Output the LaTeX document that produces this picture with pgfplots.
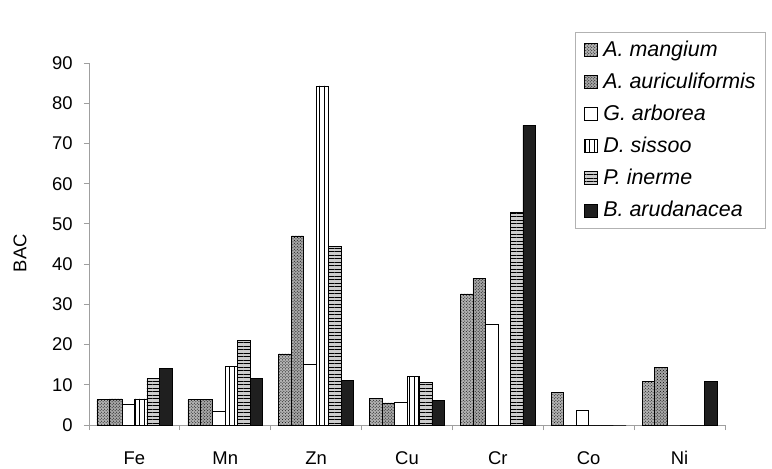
\documentclass[border=0pt]{standalone}
\usepackage{pgfplots}
\pgfplotsset{compat=1.18}
\usepackage{pgfplotstable}
\usepackage{fontspec}
\setmainfont{Liberation Sans}
\usetikzlibrary{patterns,patterns.meta}

% Bioaccumulation coefficients per element (rows) and species (columns)
\pgfplotstableread{
x  Am    Aa    Ga    Ds    Pi    Ba
0  6.3   6.5   5.2   6.5   11.6  14.1
1  6.3   6.3   3.3   14.5  21.0  11.6
2  17.7  47.0  15.1  84.3  44.5  11.0
3  6.7   5.5   5.7   12.0  10.5  6.2
4  32.6  36.5  25.0  0     53.0  74.5
5  8.2   0     3.6   0     0     0
6  10.9  14.4  0     0     0     10.8
}\bac

\pgfplotsset{
  swatch/.style={legend image code/.code={%
    \draw[##1] (0bp,-6.5bp) rectangle (13bp,6.5bp);}},
  barbase/.style={ybar, bar width=0.1375, draw=black, line width=0.6bp, swatch},
}

\begin{document}
\fontsize{18.5}{22}\selectfont
\begin{tikzpicture}
\begin{axis}[
  at={(0,0)}, anchor=south west,
  scale only axis, width=636bp, height=362bp,
  xmin=-0.5, xmax=6.5, ymin=0, ymax=90,
  ytick={0,10,...,90},
  xtick={-0.5,0.5,...,6.5}, xticklabels={},
  extra x ticks={0,...,6},
  extra x tick labels={Fe,Mn,Zn,Cu,Cr,Co,Ni},
  extra x tick style={major tick length=0pt},
  axis lines*=left,
  axis line style={draw=gray!75, line width=0.8bp},
  tick style={draw=gray!75, line width=0.8bp},
  tick align=outside,
  major tick length=5bp,
  /pgf/number format/assume math mode=true,
  xticklabel style={yshift=-20bp},
  yticklabel style={xshift=-5bp},
  ylabel={BAC},
  ylabel style={at={(axis description cs:-0.1085,0.475)}, anchor=center},
  legend style={at={(axis description cs:1.0645,1.0856)}, anchor=north east,
    draw=gray!60, line width=0.6bp, font=\fontsize{21.5}{25}\selectfont\itshape,
    row sep=9.8bp, inner xsep=8bp, inner ysep=6.5bp, cells={anchor=west},
    /tikz/every odd column/.append style={column sep=4bp}},
  legend cell align=left,
]
\addplot[barbase, bar shift=-0.34375, fill=gray!60, postaction={pattern=crosshatch dots}]
  table[x=x, y=Am]{\bac};
\addplot[barbase, bar shift=-0.20625, fill=gray!70, postaction={pattern=crosshatch dots}]
  table[x=x, y=Aa]{\bac};
\addplot[barbase, bar shift=-0.06875, fill=white]
  table[x=x, y=Ga]{\bac};
\addplot[barbase, bar shift=0.06875, fill=white,
  postaction={pattern={Lines[angle=90, distance=4.5bp, line width=0.9bp]}}]
  table[x=x, y=Ds]{\bac};
\addplot[barbase, bar shift=0.20625, fill=gray!40,
  postaction={pattern={Lines[angle=0, distance=3.5bp, line width=1bp]}}]
  table[x=x, y=Pi]{\bac};
\addplot[barbase, bar shift=0.34375, fill=black!88]
  table[x=x, y=Ba]{\bac};
\legend{A. mangium, A. auriculiformis, G. arborea, D. sissoo, P. inerme, B. arudanacea}
\end{axis}
\pgfresetboundingbox
\path (-89bp,-44bp) rectangle (683bp,425bp);
\end{tikzpicture}
\end{document}
